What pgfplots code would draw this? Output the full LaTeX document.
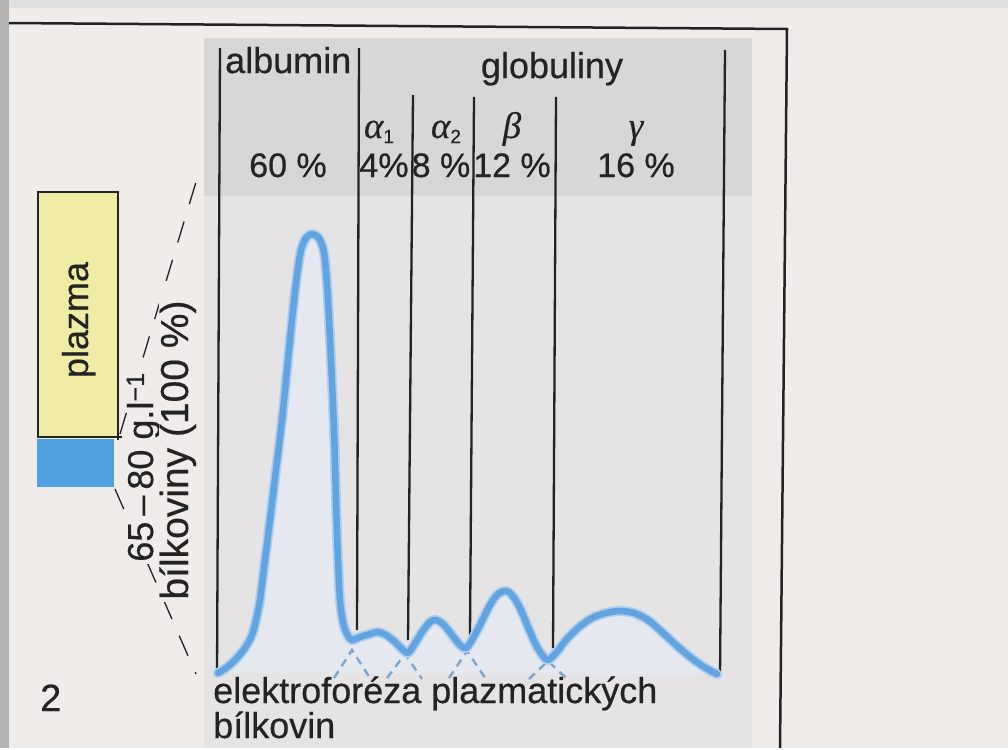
\documentclass[border=0pt]{standalone}
\usepackage{pgfplots}
\pgfplotsset{compat=1.18}
\usepackage{fontspec}
\setmainfont{Liberation Sans}[FakeBold=0.5]
\newfontfamily\greekfont{Liberation Serif}[FakeBold=0.4]
\definecolor{pagebg}{RGB}{239,236,234}
\definecolor{panelbg}{RGB}{229,227,227}
\definecolor{bandbg}{RGB}{216,214,214}
\definecolor{leftstrip}{RGB}{178,178,178}
\definecolor{topstrip}{RGB}{224,224,224}
\definecolor{curveblue}{RGB}{98,163,224}
\definecolor{halo}{RGB}{172,207,240}
\definecolor{underfill}{RGB}{229,232,238}
\definecolor{dashblue}{RGB}{125,165,205}
\definecolor{ink}{RGB}{35,35,35}
\definecolor{plyellow}{RGB}{240,235,165}
\definecolor{plblue}{RGB}{80,160,225}
\newcommand{\fs}[1]{\fontsize{#1}{#1}\selectfont}
\pgfplotstableread{
x y
218 673
226 668
235 660
245 648
252 635
256 620
260 600
265 560
270 520
276 470
282 420
288 360
293 310
297 275
301 250
306 238
312 234
318 237
322 245
325 260
328 300
331 360
334 430
336 500
338 560
340 600
343 622
347 634
352 640
360 637
370 634
378 632
386 635
395 642
403 650
408 653
414 645
422 632
430 622
436 620
443 624
452 635
460 645
466 648
472 640
480 625
490 605
498 594
506 591
512 595
520 608
528 627
536 645
543 656
548 660
556 653
566 640
578 628
592 618
606 613
620 611
634 613
648 620
662 632
676 645
690 657
704 667
717 674
}\curvedata
\begin{document}
\begin{tikzpicture}
\begin{axis}[at={(0pt,0pt)}, anchor=south west, width=1008pt, height=748pt,
  scale only axis, xmin=0, xmax=1008, ymin=0, ymax=748, y dir=reverse,
  hide axis, clip=false]
% background
\fill[pagebg] (axis cs:0,0) rectangle (axis cs:1008,748);
\fill[topstrip] (axis cs:0,0) rectangle (axis cs:1008,8);
\fill[leftstrip] (axis cs:0,0) rectangle (axis cs:9,748);
\fill[panelbg] (axis cs:204,38) rectangle (axis cs:752,748);
\fill[bandbg] (axis cs:204,38) rectangle (axis cs:752,196);
% frame
\addplot[ink, line width=2.5pt] coordinates {(9,23) (787,29) (780,748)};
% area under curve
\addplot[fill=underfill, draw=none, smooth, tension=0.5] table {\curvedata} -- cycle;
% vertical separators
\addplot[ink, line width=2.3pt] coordinates {(220,48) (217,674)};
\addplot[ink, line width=2.3pt] coordinates {(359,48) (357,630)};
\addplot[ink, line width=2.3pt] coordinates {(413,95) (408,640)};
\addplot[ink, line width=2.3pt] coordinates {(474,97) (470,635)};
\addplot[ink, line width=2.3pt] coordinates {(556,97) (553,648)};
\addplot[ink, line width=2.3pt] coordinates {(725,50) (720,677)};
% dashed component tails
\addplot[dashblue, line width=2.4pt, dash pattern=on 8pt off 6pt] coordinates {(334,678) (352,650) (370,678)};
\addplot[dashblue, line width=2.4pt, dash pattern=on 8pt off 6pt] coordinates {(387,678) (405,654) (422,679)};
\addplot[dashblue, line width=2.4pt, dash pattern=on 8pt off 6pt] coordinates {(449,678) (467,651) (486,679)};
\addplot[dashblue, line width=2.4pt, dash pattern=on 8pt off 6pt] coordinates {(529,679) (548,661) (567,679)};
% curve (halo + core)
\addplot[halo, line width=10pt, smooth, tension=0.5, line cap=round, line join=round] table {\curvedata};
\addplot[curveblue, line width=6.5pt, smooth, tension=0.5, line cap=round, line join=round] table {\curvedata};
% header texts
\node[ink, anchor=base west, inner sep=0pt] at (axis cs:225,73) {\fs{36}albumin};
\node[ink, anchor=base, inner sep=0pt] at (axis cs:552,78) {\fs{36}globuliny};
\node[ink, anchor=base, inner sep=0pt] at (axis cs:379,138) {\fs{37}{\greekfont\itshape α}\raisebox{-5pt}{\fs{19}1}};
\node[ink, anchor=base, inner sep=0pt] at (axis cs:446,138) {\fs{37}{\greekfont\itshape α}\raisebox{-5pt}{\fs{19}2}};
\node[ink, anchor=base, inner sep=0pt] at (axis cs:512,138) {\fs{37}{\greekfont\itshape β}};
\node[ink, anchor=base, inner sep=0pt] at (axis cs:636,138) {\fs{37}{\greekfont\itshape γ}};
\node[ink, anchor=base, inner sep=0pt] at (axis cs:288,177) {\fs{34}60 \%};
\node[ink, anchor=base, inner sep=0pt] at (axis cs:384,177) {\fs{34}4\%};
\node[ink, anchor=base, inner sep=0pt] at (axis cs:441,177) {\fs{34}8 \%};
\node[ink, anchor=base, inner sep=0pt] at (axis cs:512,177) {\fs{34}12 \%};
\node[ink, anchor=base, inner sep=0pt] at (axis cs:636,177) {\fs{34}16 \%};
% bottom texts
\node[ink, anchor=base west, inner sep=0pt] at (axis cs:213,703) {\fs{36}elektroforéza plazmatických};
\node[ink, anchor=base west, inner sep=0pt] at (axis cs:213,738) {\fs{36}bílkovin};
\node[ink, anchor=base west, inner sep=0pt] at (axis cs:40,711) {\fs{38}2};
% plasma tube
\fill[plyellow] (axis cs:38,192) rectangle (axis cs:118,437);
\draw[ink, line width=1.8pt] (axis cs:118,440) -- (axis cs:118,192) -- (axis cs:38,192) -- (axis cs:38,437) -- (axis cs:122,437);
\fill[plblue] (axis cs:37,439) rectangle (axis cs:114,487);
\node[ink, anchor=base, inner sep=0pt, rotate=90] at (axis cs:88,320) {\fs{36}plazma};
% dashed expansion lines
\addplot[ink, line width=1.3pt, dash pattern=on 22pt off 18pt] coordinates {(120,434) (196,182)};
\addplot[ink, line width=1.3pt, dash pattern=on 22pt off 18pt] coordinates {(115,489) (196,674)};
% rotated labels (page-coloured box breaks the dashes, as in the print)
\node[ink, anchor=base, inner xsep=2pt, inner ysep=0pt, rotate=90, fill=pagebg] at (axis cs:153,467) {\fs{36}65\,–\,80 g.l\textsuperscript{−1}};
\node[ink, anchor=base, inner xsep=2pt, inner ysep=0pt, rotate=90, fill=pagebg] at (axis cs:188,450) {\fs{39}bílkoviny (100 \%)};
\end{axis}
\end{tikzpicture}
\end{document}
